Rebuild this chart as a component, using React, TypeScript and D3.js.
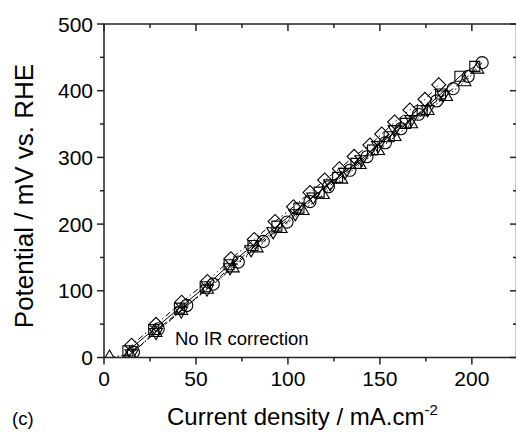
import React from "react";
import * as d3 from "d3";

const xTicks = [0, 50, 100, 150, 200];
const yTicks = [0, 100, 200, 300, 400, 500];

const sqX = [7, 13, 27, 41, 55, 68, 81, 94, 106, 117, 127, 137, 146, 155, 164, 173, 183, 193.5, 201.6];
const sqY = [-12, 10, 42, 74, 106, 139, 168, 197, 224, 248, 270, 291, 311, 331, 351, 370, 395, 421.6, 436.5];

const ciX = [8, 16, 29.5, 45, 59.4, 73, 86.6, 99.5, 112, 122, 133.7, 143, 153, 161.4, 171, 180.8, 189.8, 198, 205.6];
const ciY = [-15, 8, 43, 78, 110, 143, 174, 203, 233.7, 256, 280.7, 301, 322, 343, 364.7, 384.6, 403, 421.6, 442];

const utX = [3, 14, 28, 42, 56, 70, 83, 96, 108, 119, 129, 139, 149, 158, 167, 176, 186, 196, 203];
const utY = [0, 5, 37, 70, 102, 134, 164, 193, 220, 244, 267, 289, 310, 331, 350, 370, 391, 413, 432];

const dtX = [7, 15, 28.3, 42, 56, 68.5, 80, 92, 104, 113.8, 123, 131, 140, 149, 158, 167, 176, 184.4];
const dtY = [-10, 6, 38, 70, 103, 135, 162, 189, 216, 241, 261, 278, 297, 318, 342, 357, 372, 394];

const diX = [6, 15, 28.3, 42.2, 56.2, 69, 81.7, 93, 103, 112, 120, 128, 136, 144.6, 151, 158, 166.3, 174.5, 182];
const diY = [-14, 18.5, 49.7, 82.8, 114, 148, 176.8, 204, 226, 247.5, 266, 283, 301.5, 318.7, 335, 353, 371, 387, 409];

const W = 516;
const H = 436;
const L = 104, R = 516, T = 24, B = 357.5;

export default function App() {
  const x = d3.scaleLinear().domain([0, 224]).range([L, R]);
  const y = d3.scaleLinear().domain([0, 500]).range([B, T]);
  const font = "Arial, 'Liberation Sans', sans-serif";

  const series = [
    { xs: sqX, ys: sqY, shape: "square", dash: "none" },
    { xs: ciX, ys: ciY, shape: "circle", dash: "6,4" },
    { xs: utX, ys: utY, shape: "up", dash: "1.5,2.5" },
    { xs: dtX, ys: dtY, shape: "down", dash: "6,3,1.5,3" },
    { xs: diX, ys: diY, shape: "diamond", dash: "6,3,1.5,3,1.5,3" },
  ];

  const line = d3.line<[number, number]>().x(d => x(d[0])).y(d => y(d[1]));

  const symPath = (shape: string) => {
    switch (shape) {
      case "square": return d3.symbol(d3.symbolSquare, 100)()!;
      case "circle": return d3.symbol(d3.symbolCircle, 115)()!;
      case "up": return d3.symbol(d3.symbolTriangle, 72)()!;
      case "down": return d3.symbol(d3.symbolTriangle, 72)()!;
      default: return d3.symbol(d3.symbolSquare, 98)()!;
    }
  };
  const rot = (shape: string) => (shape === "down" ? 180 : shape === "diamond" ? 45 : 0);

  const xMinor = d3.range(25, 224, 50);
  const yMinor = d3.range(50, 500, 100);
  const axisColor = "#222";

  return (
    <svg width={W} height={H} style={{ position: "absolute", left: 0, top: 0, background: "#fff" }}>
      <defs>
        <clipPath id="plot">
          <rect x={L} y={T} width={R - L} height={B - T} />
        </clipPath>
      </defs>
      <rect width={W} height={H} fill="#fff" />
      <g clipPath="url(#plot)">
        {series.map((s, i) => (
          <path key={"l" + i} d={line(s.xs.map((v, j) => [v, s.ys[j]] as [number, number]))!}
            fill="none" stroke="#000" strokeWidth={1} strokeDasharray={s.dash} />
        ))}
        {series.map((s, i) => s.xs.map((v, j) => (
          <path key={"s" + i + "-" + j} d={symPath(s.shape)}
            transform={`translate(${x(v)},${y(s.ys[j])}) rotate(${rot(s.shape)})`}
            fill="none" stroke="#000" strokeWidth={1.1} />
        )))}
      </g>
      <rect x={L} y={T} width={R - L + 0.5} height={B - T} fill="none" stroke={axisColor} strokeWidth={1.5} />
      {xTicks.map(t => (
        <g key={"xt" + t}>
          <line x1={x(t)} x2={x(t)} y1={B} y2={B + 7} stroke={axisColor} strokeWidth={1.5} />
          <line x1={x(t)} x2={x(t)} y1={T} y2={T + 7} stroke={axisColor} strokeWidth={1.5} />
          <text x={x(t)} y={386} textAnchor="middle" fontFamily={font} fontSize={21} fill="#000">{t}</text>
        </g>
      ))}
      {xMinor.map(t => (
        <g key={"xm" + t}>
          <line x1={x(t)} x2={x(t)} y1={B} y2={B + 4} stroke={axisColor} strokeWidth={1.5} />
          <line x1={x(t)} x2={x(t)} y1={T} y2={T + 4} stroke={axisColor} strokeWidth={1.5} />
        </g>
      ))}
      {yTicks.map(t => (
        <g key={"yt" + t}>
          <line x1={L - 7} x2={L} y1={y(t)} y2={y(t)} stroke={axisColor} strokeWidth={1.5} />
          <line x1={R - 6} x2={R} y1={y(t)} y2={y(t)} stroke={axisColor} strokeWidth={1.5} />
          <text x={93} y={y(t)} dy="0.36em" textAnchor="end" fontFamily={font} fontSize={21} fill="#000">{t}</text>
        </g>
      ))}
      {yMinor.map(t => (
        <g key={"ym" + t}>
          <line x1={L - 4} x2={L} y1={y(t)} y2={y(t)} stroke={axisColor} strokeWidth={1.5} />
          <line x1={R - 3} x2={R} y1={y(t)} y2={y(t)} stroke={axisColor} strokeWidth={1.5} />
        </g>
      ))}
      <text x={175} y={345} fontFamily={font} fontSize={18.5} fill="#000">No IR correction</text>
      <text transform={`translate(33,196) rotate(-90)`} textAnchor="middle" fontFamily={font} fontSize={26} fill="#000">
        Potential / mV vs. RHE
      </text>
      <text x={167} y={425} fontFamily={font} fontSize={24} fill="#000">
        Current density / mA.cm<tspan fontSize={15} dy={-10}>-2</tspan>
      </text>
      <text x={12} y={425} fontFamily={font} fontSize={18.5} fill="#000">(c)</text>
    </svg>
  );
}
